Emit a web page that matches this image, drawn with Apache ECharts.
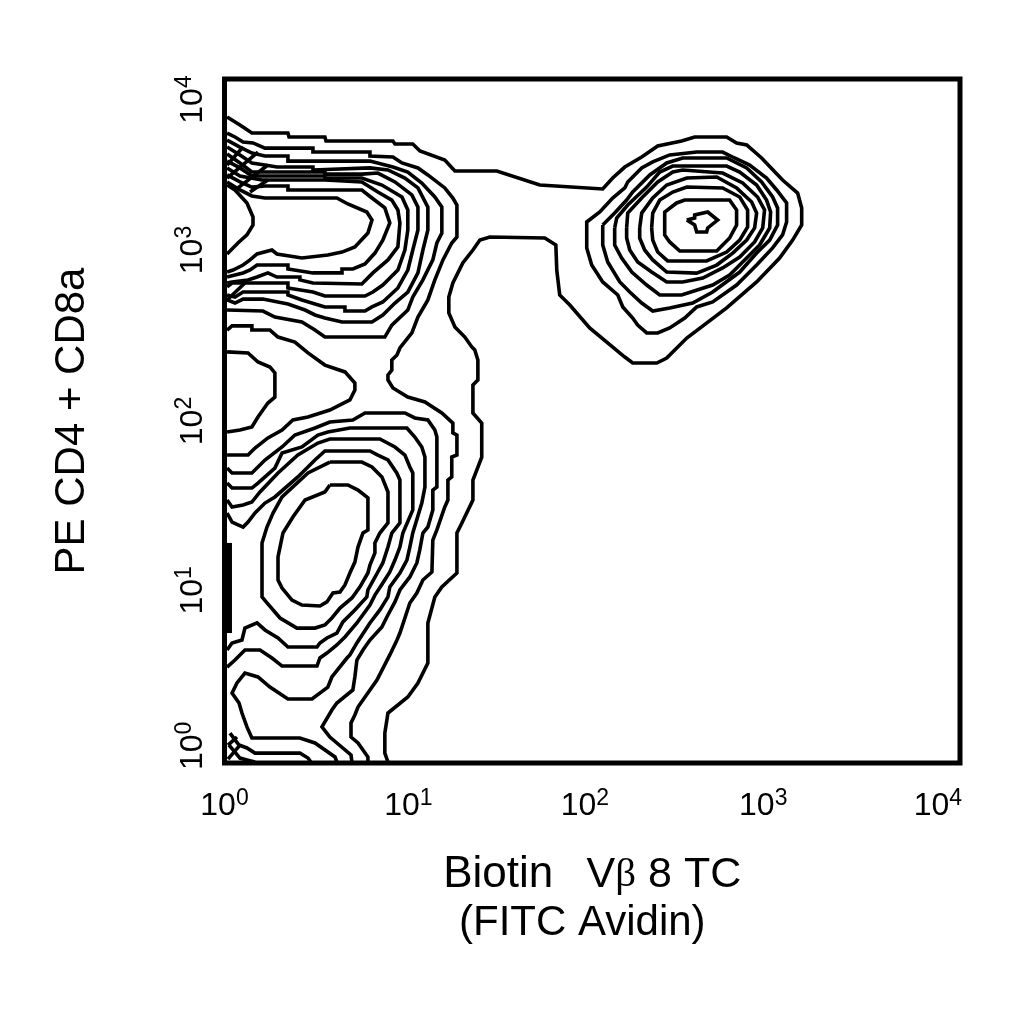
<!DOCTYPE html>
<html>
<head>
<meta charset="utf-8">
<style>html,body{margin:0;padding:0;background:#fff}#chart{width:1024px;height:1024px}</style>
<script src="https://cdn.jsdelivr.net/npm/echarts@6/dist/echarts.min.js"></script>
</head>
<body>
<div id="chart"></div>
<script>
// contour lines, each point is [log10 x, log10 y]
const outer = [[.014,3.778],[.084,3.731],[.149,3.684],[.345,3.684],[.351,3.661],[.546,3.661],[.552,3.637],[.916,3.637],[.927,3.620],[1.024,3.620],[1.063,3.579],[1.198,3.526],[1.253,3.462],[1.481,3.462],[1.715,3.380],[2.057,3.357],[2.111,3.421],[2.177,3.485],[2.269,3.544],[2.356,3.608],[2.486,3.637],[2.557,3.661],[2.731,3.661],[2.785,3.626],[2.840,3.614],[2.921,3.538],[3.035,3.409],[3.117,3.333],[3.139,3.246],[3.139,3.146],[3.090,3.058],[3.019,2.953],[2.894,2.813],[2.731,2.661],[2.514,2.485],[2.405,2.368],[2.351,2.339],[2.220,2.339],[2.177,2.374],[1.986,2.544],[1.878,2.678],[1.823,2.737],[1.807,2.883],[1.802,3.029],[1.742,3.070],[1.443,3.076],[1.389,3.058],[1.351,3.0],[1.296,2.924],[1.242,2.807],[1.220,2.725],[1.220,2.632],[1.253,2.550],[1.307,2.491],[1.345,2.433],[1.361,2.415],[1.378,2.357],[1.378,2.240],[1.351,2.211],[1.351,2.047],[1.399,1.988],[1.399,1.789],[1.351,1.655],[1.351,1.538],[1.291,1.404],[1.264,1.345],[1.264,1.111],[1.182,1.029],[1.144,.971],[1.106,.819],[1.106,.585],[1.052,.468],[.997,.386],[.889,.292],[.872,.175],[.872,.058],[.889,.006]];
const second = [[.014,3.684],[.057,3.661],[.101,3.632],[.155,3.626],[.220,3.596],[.481,3.596],[.481,3.573],[.791,3.573],[.791,3.550],[.916,3.544],[.965,3.509],[1.052,3.480],[1.106,3.439],[1.198,3.363],[1.242,3.304],[1.264,3.263],[1.264,3.076],[1.236,3.041],[1.188,2.942],[1.144,2.825],[1.106,2.708],[1.052,2.608],[1.019,2.515],[.954,2.427],[.938,2.386],[.910,2.357],[.910,2.298],[.889,2.269],[.889,2.240],[.916,2.193],[.997,2.140],[1.090,2.111],[1.182,2.047],[1.242,1.988],[1.242,1.930],[1.264,1.918],[1.264,1.801],[1.236,1.789],[1.236,1.673],[1.215,1.655],[1.215,1.538],[1.198,1.497],[1.155,1.363],[1.133,1.304],[1.128,1.117],[1.079,1.070],[1.046,.994],[1.008,.936],[.954,.760],[.938,.719],[.899,.632],[.829,.485],[.726,.327],[.709,.281],[.688,.234],[.688,.152],[.726,.117],[.780,.035],[.780,.006]];
const upper1 = [[.014,3.643],[.084,3.602],[.149,3.567],[.220,3.550],[.345,3.550],[.345,3.520],[.791,3.520],[.916,3.485],[.997,3.456],[1.073,3.392],[1.144,3.310],[1.182,3.251],[1.182,3.099],[1.155,3.041],[1.133,2.942],[1.079,2.825],[1.024,2.725],[.997,2.649],[.910,2.561],[.872,2.491],[.546,2.491],[.492,2.532],[.421,2.579],[.274,2.608],[.209,2.643],[.014,2.649]];
const upper2 = [[.014,3.602],[.084,3.556],[.149,3.509],[.220,3.497],[.285,3.485],[.481,3.485],[.481,3.468],[.791,3.480],[.889,3.468],[.981,3.421],[1.052,3.363],[1.106,3.251],[1.106,3.117],[1.079,3.0],[1.052,2.866],[.997,2.754],[.927,2.690],[.861,2.620],[.802,2.579],[.639,2.579],[.546,2.602],[.492,2.620],[.438,2.649],[.345,2.684],[.209,2.713],[.101,2.713],[.057,2.690],[.014,2.708]];
const upper3 = [[.014,3.561],[.084,3.509],[.149,3.456],[.546,3.456],[.546,3.444],[.747,3.444],[.834,3.450],[.927,3.398],[1.019,3.322],[1.052,3.251],[1.052,3.117],[1.024,3.0],[.997,2.883],[.943,2.778],[.861,2.696],[.802,2.667],[.764,2.643],[.655,2.643],[.655,2.667],[.546,2.667],[.421,2.708],[.345,2.737],[.345,2.754],[.101,2.754],[.057,2.725],[.014,2.737]];
const upper4 = [[.014,3.520],[.084,3.480],[.149,3.433],[.546,3.433],[.546,3.421],[.747,3.421],[.856,3.380],[.965,3.310],[.997,3.234],[.997,3.117],[.981,3.0],[.943,2.883],[.861,2.795],[.807,2.754],[.764,2.731],[.546,2.731],[.481,2.754],[.345,2.778],[.345,2.807],[.041,2.807],[.014,2.784]];
const upper5 = [[.014,3.480],[.084,3.433],[.204,3.409],[.546,3.409],[.546,3.398],[.747,3.398],[.834,3.339],[.910,3.292],[.943,3.234],[.954,3.158],[.943,3.018],[.889,2.942],[.807,2.866],[.747,2.801],[.481,2.807],[.410,2.825],[.410,2.842],[.285,2.842],[.236,2.866],[.177,2.842],[.128,2.825],[.041,2.813],[.014,2.807]];
const upper6 = [[.014,3.439],[.084,3.398],[.149,3.368],[.220,3.374],[.345,3.374],[.345,3.351],[.747,3.351],[.802,3.304],[.872,3.246],[.899,3.158],[.861,3.058],[.818,2.982],[.764,2.918],[.698,2.889],[.639,2.889],[.639,2.866],[.481,2.866],[.345,2.889],[.345,2.912],[.177,2.912],[.139,2.883],[.101,2.866],[.057,2.854],[.014,2.842]];
const upper7 = [[.014,3.398],[.084,3.351],[.149,3.316],[.220,3.304],[.611,3.304],[.671,3.269],[.774,3.222],[.802,3.175],[.780,3.099],[.709,3.018],[.639,2.988],[.562,2.971],[.421,2.953],[.285,2.977],[.258,3.0],[.177,2.977],[.139,2.942],[.101,2.912],[.046,2.883],[.014,2.871]];
const edgeUpper = [[.014,3.380],[.057,3.351],[.122,3.275],[.155,3.193],[.155,3.146],[.122,3.088],[.073,3.041],[.014,2.977]];
const edgeMiddle = [[.014,2.404],[.128,2.398],[.182,2.345],[.247,2.316],[.274,2.281],[.274,2.140],[.236,2.105],[.182,2.023],[.149,1.965],[.084,1.947],[.014,1.936]];
const saddle = [[.014,2.532],[.041,2.556],[.149,2.556],[.149,2.532],[.247,2.532],[.291,2.491],[.383,2.462],[.454,2.398],[.546,2.327],[.655,2.287],[.709,2.222],[.709,2.181],[.682,2.123],[.573,2.064],[.454,2.023],[.372,2.006],[.313,1.947],[.236,1.901],[.166,1.842],[.128,1.801],[.014,1.801]];
const lower1 = [[.014,1.725],[.041,1.696],[.149,1.696],[.220,1.772],[.313,1.848],[.383,1.918],[.492,1.959],[.573,1.994],[.698,2.006],[.764,2.047],[.981,2.047],[1.035,2.018],[1.106,2.006],[1.144,1.947],[1.155,1.906],[1.155,1.614],[1.133,1.596],[1.133,1.480],[1.106,1.380],[1.079,1.345],[1.062,1.246],[1.046,1.170],[1.008,1.088],[.954,1.012],[.927,.942],[.883,.854],[.856,.795],[.791,.719],[.753,.661],[.720,.602],[.709,.503],[.698,.427],[.611,.351],[.584,.310],[.530,.211],[.573,.152],[.611,.117],[.688,.047],[.693,.006]];
const lower2 = [[.014,1.637],[.041,1.608],[.149,1.608],[.182,1.637],[.274,1.725],[.313,1.813],[.421,1.848],[.508,1.918],[.562,1.936],[.682,1.959],[.992,1.959],[1.035,1.906],[1.073,1.848],[1.090,1.789],[1.090,1.614],[1.073,1.520],[1.024,1.345],[1.008,1.263],[.992,1.187],[.954,1.111],[.899,1.029],[.889,.971],[.845,.895],[.791,.819],[.720,.702],[.682,.632],[.666,.614],[.584,.503],[.562,.444],[.476,.374],[.345,.374],[.247,.444],[.182,.503],[.111,.526],[.068,.468],[.041,.409],[.079,.351],[.095,.292],[.122,.211],[.149,.146],[.410,.146],[.492,.117],[.601,.035],[.611,.006]];
const lower3 = [[.014,1.538],[.041,1.497],[.101,1.509],[.149,1.526],[.193,1.585],[.291,1.696],[.399,1.801],[.508,1.871],[.573,1.895],[.845,1.895],[.927,1.848],[.981,1.801],[1.008,1.731],[1.024,1.696],[1.024,1.480],[.970,1.345],[.954,1.263],[.927,1.187],[.899,1.117],[.861,1.053],[.818,.982],[.791,.924],[.720,.819],[.655,.737],[.611,.690],[.557,.643],[.519,.614],[.503,.567],[.313,.567],[.258,.614],[.193,.661],[.111,.661],[.057,.602],[.014,.561]];
const lower4 = [[.014,1.462],[.041,1.409],[.101,1.380],[.128,1.409],[.166,1.462],[.220,1.520],[.274,1.556],[.399,1.673],[.492,1.772],[.546,1.825],[.791,1.825],[.834,1.801],[.889,1.772],[.937,1.696],[.954,1.655],[.954,1.404],[.910,1.345],[.889,1.263],[.861,1.170],[.834,1.117],[.780,1.012],[.774,.971],[.709,.895],[.644,.825],[.611,.760],[.557,.731],[.519,.702],[.503,.678],[.345,.678],[.291,.731],[.220,.778],[.177,.819],[.111,.789],[.095,.719],[.041,.702],[.014,.661]];
const lower5 = [[.573,1.760],[.747,1.760],[.802,1.731],[.856,1.673],[.889,1.585],[.889,1.404],[.845,1.345],[.818,1.287],[.818,1.228],[.791,1.158],[.780,1.111],[.736,1.029],[.693,.965],[.628,.906],[.584,.848],[.546,.807],[.492,.789],[.394,.789],[.302,.848],[.231,.936],[.204,.971],[.204,1.287],[.231,1.380],[.264,1.462],[.313,1.556],[.454,1.696],[.573,1.760]];
const lower6 = [[.573,1.626],[.671,1.626],[.726,1.596],[.780,1.550],[.780,1.363],[.753,1.345],[.726,1.263],[.709,1.175],[.682,1.111],[.655,1.041],[.628,1.000],[.590,.994],[.557,.942],[.519,.918],[.421,.924],[.367,.953],[.313,1.023],[.291,1.070],[.291,1.205],[.318,1.345],[.372,1.439],[.438,1.538],[.546,1.585],[.573,1.626]];
const corner1 = [[.030,.175],[.057,.135],[.079,.105],[.122,.088],[.166,.058],[.410,.058],[.454,.029],[.470,.006]];
const corner2 = [[.024,.105],[.057,.064],[.084,.029],[.122,.018],[.166,.006]];
const corner3 = [[.019,.023],[.084,.105]];
const corner4 = [[.019,.105],[.068,.152]];
const edgeBar = [[.027,1.287],[.027,.760]];
// short crossing pieces in the dense bands near the left edge
const hatch1 = [[.014,3.497],[.101,3.602]];
const hatch2 = [[.014,3.421],[.182,3.573]];
const hatch3 = [[.073,3.363],[.236,3.497]];
const hatch4 = [[.139,3.339],[.236,3.409]];
const hatch5 = [[.014,2.708],[.111,2.807]];
const right1 = [[1.970,3.129],[1.970,3.164],[2.041,3.222],[2.111,3.304],[2.177,3.363],[2.193,3.398],[2.269,3.480],[2.329,3.515],[2.421,3.556],[2.568,3.573],[2.709,3.573],[2.774,3.538],[2.856,3.497],[2.948,3.421],[3.003,3.351],[3.057,3.275],[3.057,3.164],[3.035,3.088],[2.981,3.012],[2.894,2.912],[2.785,2.795],[2.655,2.696],[2.568,2.667],[2.503,2.602],[2.421,2.544],[2.356,2.515],[2.296,2.515],[2.247,2.561],[2.220,2.602],[2.166,2.667],[2.139,2.737],[2.057,2.813],[1.997,2.912],[1.970,3.012],[1.970,3.129]];
const right2 = [[2.057,3.146],[2.122,3.216],[2.187,3.292],[2.220,3.339],[2.313,3.439],[2.405,3.509],[2.492,3.538],[2.731,3.538],[2.840,3.480],[2.921,3.398],[2.981,3.310],[3.008,3.246],[3.008,3.146],[2.965,3.058],[2.894,2.982],[2.802,2.871],[2.655,2.754],[2.546,2.690],[2.421,2.661],[2.329,2.643],[2.269,2.690],[2.204,2.754],[2.150,2.813],[2.084,2.930],[2.057,3.029],[2.057,3.146]];
const right3 = [[2.122,3.129],[2.133,3.187],[2.193,3.263],[2.296,3.368],[2.367,3.456],[2.438,3.491],[2.731,3.491],[2.802,3.456],[2.894,3.380],[2.948,3.292],[2.970,3.222],[2.965,3.129],[2.910,3.029],[2.818,2.930],[2.747,2.854],[2.655,2.795],[2.486,2.737],[2.367,2.737],[2.296,2.795],[2.215,2.871],[2.160,2.953],[2.122,3.029],[2.122,3.129]];
const right4 = [[2.187,3.129],[2.193,3.216],[2.274,3.310],[2.356,3.398],[2.438,3.456],[2.492,3.468],[2.709,3.450],[2.818,3.392],[2.899,3.310],[2.937,3.234],[2.927,3.129],[2.883,3.047],[2.802,2.959],[2.709,2.895],[2.601,2.836],[2.492,2.813],[2.405,2.813],[2.323,2.871],[2.247,2.930],[2.204,3.0],[2.187,3.070],[2.187,3.129]];
const right5 = [[2.258,3.129],[2.269,3.216],[2.329,3.304],[2.405,3.380],[2.514,3.421],[2.677,3.427],[2.785,3.363],[2.867,3.281],[2.894,3.216],[2.883,3.129],[2.840,3.058],[2.764,2.982],[2.677,2.912],[2.568,2.865],[2.405,2.871],[2.329,2.942],[2.285,3.0],[2.258,3.070],[2.258,3.129]];
const right6 = [[2.323,3.129],[2.329,3.216],[2.367,3.292],[2.438,3.339],[2.514,3.368],[2.709,3.363],[2.802,3.310],[2.845,3.234],[2.845,3.135],[2.802,3.058],[2.731,2.988],[2.622,2.936],[2.410,2.936],[2.356,2.988],[2.329,3.058],[2.323,3.129]];
const right7 = [[2.394,3.129],[2.394,3.222],[2.459,3.275],[2.503,3.292],[2.747,3.292],[2.785,3.234],[2.785,3.146],[2.747,3.070],[2.677,2.994],[2.476,2.994],[2.421,3.047],[2.394,3.088],[2.394,3.129]];
const rightPeak = [[2.514,3.175],[2.557,3.187],[2.557,3.205],[2.628,3.222],[2.682,3.175],[2.628,3.129],[2.622,3.105],[2.568,3.105],[2.557,3.146],[2.514,3.175]];

const tickExponents = ['0', '1', '2', '3', '4'];
// the printed labels do not sit exactly on the decades
const xLabelPlaces = [0, 1, 1.96, 2.93, 3.88];
const yLabelPlaces = [0.1, 1.01, 2, 3, 3.88];
const contours = [
  outer, second, upper1, upper2, upper3, upper4, upper5, upper6, upper7,
  edgeUpper, edgeMiddle, saddle, lower1, lower2, lower3, lower4, lower5, lower6,
  corner1, corner2, corner3, corner4, edgeBar, hatch1, hatch2, hatch3, hatch4, hatch5,
  right1, right2, right3, right4, right5, right6, right7, rightPeak,
];

const FONT = '"Liberation Sans", Arial, sans-serif';
const tickRich = {
  base: { fontFamily: FONT, fontSize: 32, color: '#000' },
  sup: { fontFamily: FONT, fontSize: 23, color: '#000', padding: [0, 0, 16, 0] },
};
const tickFormatter = (places) => (value) =>
  `{base|10}{sup|${tickExponents[places.indexOf(value)]}}`;

const chart = echarts.init(document.getElementById('chart'), null, { renderer: 'canvas' });
chart.setOption({
  animation: false,
  backgroundColor: '#fff',
  grid: {
    left: 224.5, top: 79, width: 735.5, height: 684,
    show: true, borderColor: '#000', borderWidth: 5, backgroundColor: '#fff',
  },
  xAxis: {
    type: 'value', min: 0, max: 4, interval: 1,
    axisLine: { show: false }, axisTick: { show: false }, splitLine: { show: false },
    axisLabel: {
      margin: 24, formatter: tickFormatter(xLabelPlaces), rich: tickRich,
      customValues: xLabelPlaces,
      showMinLabel: true, showMaxLabel: true, hideOverlap: false,
    },
    name: '{a|Biotin}    {b|V}{c|β}{b| 8 TC}',
    nameLocation: 'middle',
    nameGap: 90,
    nameTextStyle: {
      fontSize: 30,
      rich: {
        a: { fontFamily: FONT, fontSize: 44, color: '#000' },
        b: { fontFamily: FONT, fontSize: 43, color: '#000' },
        c: { fontFamily: '"Liberation Serif", serif', fontSize: 41, color: '#000' },
      },
    },
  },
  yAxis: {
    type: 'value', min: 0, max: 4, interval: 1,
    axisLine: { show: false }, axisTick: { show: false }, splitLine: { show: false },
    axisLabel: {
      rotate: 90, margin: 12, formatter: tickFormatter(yLabelPlaces), rich: tickRich,
      customValues: yLabelPlaces,
      showMinLabel: true, showMaxLabel: true, hideOverlap: false,
    },
    name: 'PE CD4 + CD8a',
    nameLocation: 'middle',
    nameRotate: 90,
    nameGap: 131,
    nameTextStyle: { fontFamily: FONT, fontSize: 42, color: '#000' },
  },
  graphic: [{
    type: 'text', left: 459, top: 902,
    style: { text: '(FITC Avidin)', font: `42px ${FONT}`, fill: '#000' },
  }],
  series: contours.map((data) => ({
    type: 'line',
    data,
    showSymbol: false,
    smooth: false,
    silent: true,
    clip: false,
    lineStyle: { color: '#000', width: data === edgeBar ? 5 : 3.6, join: 'miter' },
  })),
});
</script>
</body>
</html>
